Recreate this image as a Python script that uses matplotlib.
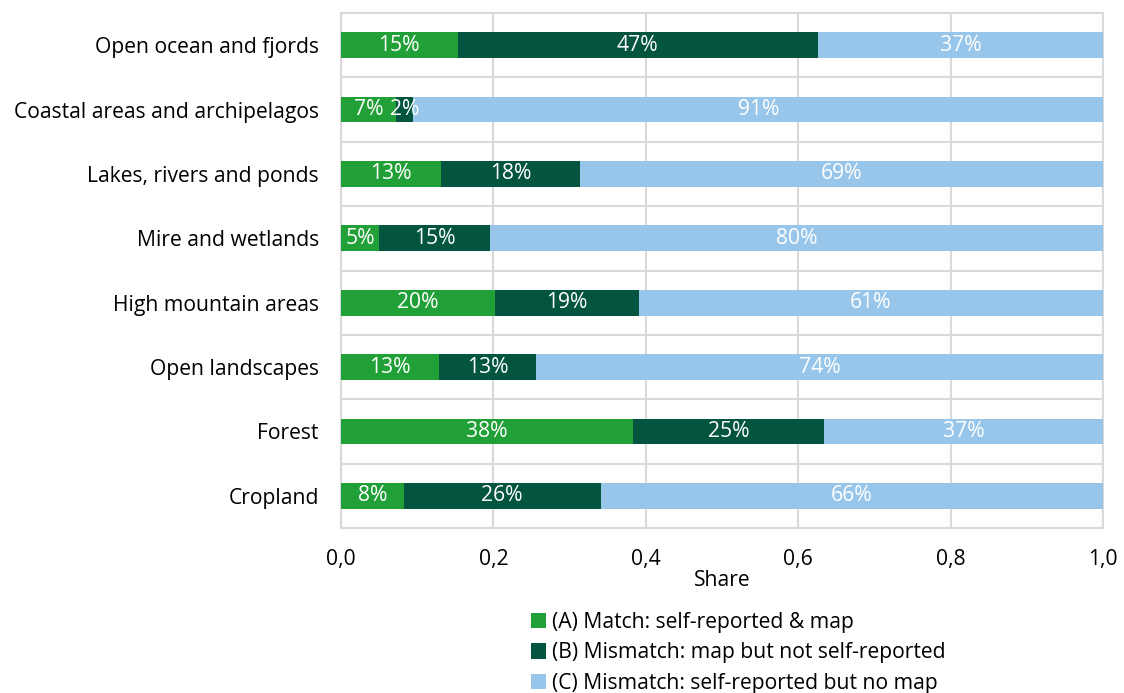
import numpy as np
import matplotlib
matplotlib.use("Agg")
import matplotlib.pyplot as plt
from matplotlib.ticker import FuncFormatter

plt.rcParams["font.family"] = ["Open Sans", "DejaVu Sans"]

categories = ["Open ocean and fjords", "Coastal areas and archipelagos",
              "Lakes, rivers and ponds", "Mire and wetlands",
              "High mountain areas", "Open landscapes", "Forest", "Cropland"]
match = [0.153, 0.072, 0.131, 0.050, 0.202, 0.129, 0.383, 0.082]
map_only = [0.473, 0.023, 0.183, 0.146, 0.189, 0.127, 0.251, 0.259]
self_only = [0.374, 0.906, 0.686, 0.804, 0.609, 0.744, 0.366, 0.659]
series_names = ["(A) Match: self-reported & map",
                "(B) Mismatch: map but not self-reported",
                "(C) Mismatch: self-reported but no map"]
colors = ["#22A038", "#03553F", "#97C6EA"]

fs = 15.2

fig = plt.figure(figsize=(11.24, 6.93), dpi=100)
ax = fig.add_axes([0.3034, 0.2381, 0.6779, 0.7431])

y = np.arange(len(categories))
left = np.zeros(len(categories))
for vals, name, col in zip([match, map_only, self_only], series_names, colors):
    vals = np.array(vals)
    bars = ax.barh(y, vals, left=left, height=0.4, color=col, label=name, zorder=3)
    for b, v in zip(bars, vals):
        ax.text(b.get_x() + b.get_width() / 2, b.get_y() + b.get_height() / 2,
                f"{v * 100:.0f}%", ha="center", va="center", color="white",
                fontsize=fs, zorder=4)
    left += vals

ax.set_ylim(len(categories) - 0.5, -0.5)
ax.set_xlim(0, 1)
ax.set_yticks(y)
ax.set_yticklabels(categories, fontsize=fs)
ax.set_yticks(np.arange(-0.5, len(categories), 1), minor=True)
ax.set_xticks(np.arange(0, 1.01, 0.2))
ax.xaxis.set_major_formatter(FuncFormatter(lambda v, p: f"{v:.1f}".replace(".", ",")))
ax.tick_params(axis="x", labelsize=fs, length=0, pad=15)
ax.tick_params(axis="y", which="both", length=0, pad=16)
ax.set_xlabel("Share", fontsize=fs, labelpad=0)

ax.grid(axis="x", which="major", color="#D9D9D9", linewidth=1.5, zorder=0)
ax.grid(axis="y", which="minor", color="#D9D9D9", linewidth=1.5, zorder=0)
for s in ax.spines.values():
    s.set_color("#D9D9D9")
    s.set_linewidth(1.5)

fig.legend(loc="upper left", bbox_to_anchor=(0.472, 0.117), frameon=False,
           fontsize=fs, handlelength=0.75, handleheight=0.75, handletextpad=0.25,
           labelspacing=0.45, borderpad=0, borderaxespad=0)

plt.savefig("out.png", dpi=100)
